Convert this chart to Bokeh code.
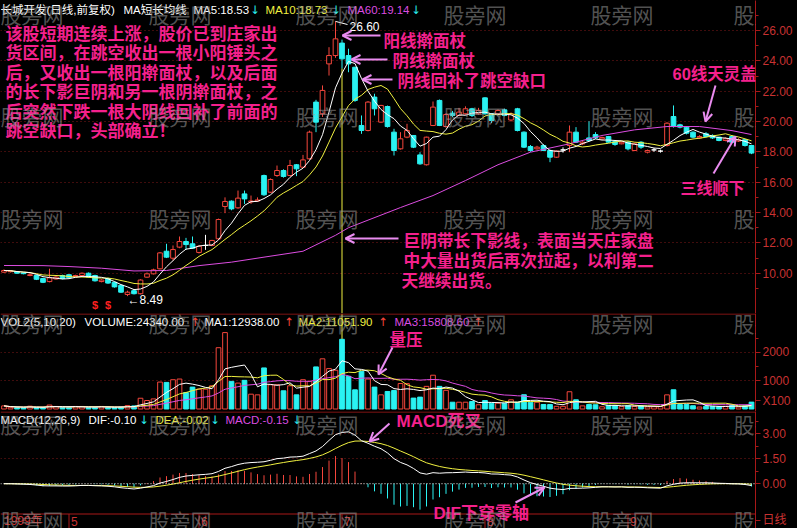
import numpy as np
import pandas as pd
from bokeh.plotting import figure
from bokeh.layouts import column
from bokeh.models import (Range1d, FixedTicker, Label, Arrow, OpenHead, Span,
                          PrintfTickFormatter, ColumnDataSource)
from bokeh.core.properties import value
from bokeh.embed import file_html
from bokeh.resources import INLINE

# ---------------- data ----------------
opens = [10.07,10.10,10.10,10.02,9.85,9.85,9.65,9.45,9.62,9.85,
         9.90,9.78,9.85,10.00,9.85,9.45,9.65,9.40,9.20,8.60,
         8.85,8.65,9.74,9.96,10.29,11.45,10.99,11.72,12.09,11.94,
         11.37,11.83,11.83,12.27,14.40,14.75,14.31,15.23,14.70,14.76,
         16.44,15.34,16.44,16.77,16.44,17.15,16.99,17.54,21.28,20.51,
         23.80,24.35,25.17,24.35,23.58,19.74,19.41,21.61,19.96,20.99,
         19.30,18.20,18.97,19.08,17.80,17.15,19.74,21.39,19.67,20.55,
         20.40,20.51,20.84,20.51,21.56,20.51,20.50,20.77,20.10,20.84,
         19.30,18.35,18.20,18.42,18.09,17.65,18.13,18.42,19.30,18.53,
         18.92,19.14,18.85,19.01,18.68,18.53,18.64,18.09,18.64,17.98,
         18.13,18.05,18.42,20.33,19.78,19.63,19.30,18.92,19.19,19.08,
         18.97,18.75,19.01,18.71,18.80,18.42]
highs = [10.25,10.20,10.12,10.05,10.00,9.90,9.70,10.30,9.85,9.90,
         9.95,9.90,10.05,10.05,9.90,9.60,9.70,9.45,9.25,8.85,
         8.95,9.60,10.05,10.30,11.40,11.94,11.83,12.42,12.33,12.42,
         11.85,12.53,12.20,13.60,15.00,14.80,15.45,15.45,15.12,15.00,
         16.50,16.25,17.10,16.85,17.47,17.20,17.80,19.40,21.43,22.38,
         24.90,26.60,25.40,24.80,23.60,20.40,21.35,21.83,21.10,21.05,
         19.52,19.30,19.85,19.10,17.98,19.00,21.32,21.45,20.55,20.70,
         20.90,21.00,20.90,20.90,21.60,20.55,20.80,20.85,20.60,20.90,
         19.35,18.45,18.40,18.50,18.15,18.10,18.30,19.74,19.63,18.70,
         20.02,19.30,19.00,19.05,18.75,18.70,18.70,18.60,18.70,18.15,
         18.25,18.15,19.95,21.06,19.85,19.70,19.35,19.10,19.30,19.15,
         19.00,18.95,19.10,18.90,18.85,18.45]
lows = [10.02,10.05,9.97,9.93,9.80,9.55,9.35,9.40,9.58,9.60,
        9.65,9.75,9.80,9.70,9.45,9.40,9.30,9.05,8.70,8.49,
        8.60,8.60,9.70,9.92,10.25,11.00,10.84,11.65,11.54,11.60,
        11.30,11.54,11.78,12.20,13.96,14.15,14.25,14.57,14.57,14.70,
        15.10,15.30,16.35,16.30,16.40,16.40,16.95,17.50,19.30,20.30,
        23.03,24.20,23.50,23.25,21.30,19.19,19.35,20.40,19.90,19.60,
        17.76,18.15,18.90,18.25,17.15,17.10,19.70,19.70,19.60,20.30,
        20.35,20.45,20.30,20.45,20.45,19.90,20.40,20.35,20.00,19.35,
        18.25,18.00,18.15,18.05,17.32,17.60,17.95,17.98,18.60,18.45,
        18.70,18.85,18.80,18.60,18.40,18.50,18.10,18.05,18.20,17.90,
        18.00,17.95,18.35,19.60,19.55,19.15,18.90,18.85,18.95,18.85,
        18.70,18.70,18.60,18.65,18.35,17.85]
closes = [10.18,10.15,10.00,9.97,9.90,9.60,9.40,9.70,9.75,9.65,
          9.70,9.85,10.00,9.75,9.50,9.55,9.35,9.10,8.75,8.75,
          8.65,9.55,9.96,10.22,11.34,11.06,11.56,12.09,11.89,11.65,
          11.78,11.83,12.16,13.54,14.73,14.24,14.95,14.90,14.76,14.83,
          15.17,16.18,16.77,16.38,17.10,16.88,17.47,19.30,19.96,22.05,
          24.35,25.45,24.13,23.80,21.39,19.41,21.28,20.84,21.06,19.67,
          18.09,18.86,19.41,18.31,17.21,18.97,20.95,19.74,20.46,20.40,
          20.62,20.84,20.40,20.73,20.51,20.07,20.73,20.40,20.50,19.41,
          18.31,18.09,18.31,18.09,17.65,18.05,18.13,19.30,18.64,18.64,
          18.75,18.92,18.95,18.64,18.49,18.64,18.20,18.53,18.31,18.09,
          18.13,18.05,19.89,19.67,19.63,19.23,18.97,19.01,19.01,18.92,
          18.75,18.86,18.64,18.80,18.42,17.92]
volumes = [110,60,50,50,100,60,50,140,90,60,
           60,90,90,60,60,90,60,60,70,120,
           110,380,300,357,952,940,1035,1059,583,774,
           702,700,821,2166,2700,976,916,1012,524,500,
           1452,857,857,643,821,500,1035,976,1488,1773,
           1428,1369,2463,1154,678,1333,1059,774,500,619,
           655,900,896,385,420,800,1194,800,660,240,
           240,240,265,150,300,206,206,206,325,240,
           504,240,240,160,160,95,95,610,325,110,
           160,150,80,130,125,85,120,90,115,75,
           80,85,500,680,160,160,115,70,95,90,
           90,95,130,70,108,243.4]
ma60_idx = [0,6,10,15,20,25,30,35,40,46,51,53,61,66,71,76,81,87,92,97,102,107,112,115]
ma60_val = [10.51,10.50,10.44,10.33,10.15,10.18,10.50,10.73,11.06,11.45,12.50,13.00,
            14.33,15.12,16.11,17.15,17.98,18.53,19.08,19.45,19.67,19.67,19.40,19.14]
price_ticks = [10, 12, 14, 16, 18, 20, 22, 24, 26]
vol_ticks = [1000, 2000]
vol_unit_tick, vol_unit_text = 300, "X100"
macd_ticks = [0.0, 1.5, 3.0]
period_tick, period_text = -2.2, "日线"
month_start_idx = [10, 30, 52, 74, 96]
month_names = ["5", "6", "7", "8", "9"]
year_name = "1999年"
signal_idx = [14, 16]
cursor_idx = 52

# ---------------- layout & style constants ----------------
FRAME_W = 755
RIGHT_W = 42
PXB = 6.5          # pixels per bar
X_START = -0.54
BLACK = "#000000"; RED = "#f5463c"; CYAN = "#2af2f2"; WHITE = "#ffffff"
YELLOW = "#f0f040"; MAGENTA = "#dc4ce0"; AXIS_RED = "#a81818"; LABEL_RED = "#c83232"
GRID_RED = "#801818"; PINK = "#f5208c"; VIOLET = "#ea8cf0"; WM = "#9a9a9a"
LAT = "Liberation Sans, Noto Sans CJK SC"
CJK = "Noto Sans CJK SC"
ARW = "DejaVu Sans"

def xd(px):
    return X_START + px / PXB

def conv(top, h, start, end):
    return lambda py: end - (py - top) * (end - start) / h

P_RANGE = (7.345, 27.978); P_TOP, P_H = 0, 313
V_RANGE = (-88.3, 3374.6); V_TOP, V_H = 313, 98
M_RANGE = (-2.690, 4.337); M_TOP, M_H = 411, 117
yp = conv(P_TOP, P_H, *P_RANGE)
yv = conv(V_TOP, V_H, *V_RANGE)
ym = conv(M_TOP, M_H, *M_RANGE)

# ---------------- derived series ----------------
o = np.array(opens); hi = np.array(highs); lo = np.array(lows); c = np.array(closes)
v = np.array(volumes, dtype=float)
N = len(c); idx = np.arange(N)
up = c > o; flat = c == o
line_col = np.where(flat, WHITE, np.where(up, RED, CYAN))
fill_col = np.where(up | flat, BLACK, CYAN)
vline_col = np.where(up | flat, RED, CYAN)

ma5 = pd.Series(c).rolling(5, min_periods=1).mean().values
ma10 = pd.Series(c).rolling(10, min_periods=1).mean().values
vma5 = pd.Series(v).rolling(5, min_periods=1).mean().values
vma10 = pd.Series(v).rolling(10, min_periods=1).mean().values
vma20 = pd.Series(v).rolling(20, min_periods=1).mean().values

def ema(x, n):
    a = 2.0 / (n + 1); out = np.empty(len(x)); out[0] = x[0]
    for i in range(1, len(x)):
        out[i] = a * x[i] + (1 - a) * out[i - 1]
    return out

dif = ema(c, 12) - ema(c, 26)
dea = ema(dif, 9)
hist = 2 * (dif - dea)

# ---------------- figures ----------------
xr = Range1d(X_START, X_START + FRAME_W / PXB)

def make(h, rng):
    p = figure(frame_width=FRAME_W, frame_height=h, x_range=xr, y_range=Range1d(*rng),
               output_backend="svg", toolbar_location=None, y_axis_location="right",
               x_axis_location=None,
               min_border_left=0, min_border_right=RIGHT_W, min_border_top=0, min_border_bottom=0,
               background_fill_color=BLACK, border_fill_color=BLACK, outline_line_color=None)
    p.xgrid.grid_line_color = None
    return p

def style_y(p, ticks, minor, fmt, grid_ticks, overrides=None):
    ax = p.yaxis[0]
    ax.ticker = FixedTicker(ticks=ticks, minor_ticks=minor)
    ax.formatter = PrintfTickFormatter(format=fmt)
    if overrides:
        ax.major_label_overrides = overrides
    ax.axis_line_color = AXIS_RED
    ax.major_tick_line_color = AXIS_RED
    ax.minor_tick_line_color = AXIS_RED
    ax.major_tick_in = 0; ax.major_tick_out = 5
    ax.minor_tick_in = 0; ax.minor_tick_out = 3
    ax.major_label_text_color = LABEL_RED
    ax.major_label_text_font_size = "12px"
    ax.major_label_text_font = LAT
    ax.major_label_standoff = 2
    p.ygrid.ticker = FixedTicker(ticks=grid_ticks)
    p.ygrid.grid_line_color = GRID_RED
    p.ygrid.grid_line_dash = "1 3"

def label(p, px, py, text, color, size, yc, font=LAT, style="normal", alpha=1.0, **kw):
    p.add_layout(Label(x=xd(px), y=yc(py), text=text, text_color=color, text_alpha=alpha,
                       text_font=font, text_font_size=f"{size}px", text_font_style=style,
                       text_align="left", text_baseline="middle", **kw))

def arrow(p, a, b, yc):
    p.add_layout(Arrow(x_start=xd(a[0]), y_start=yc(a[1]), x_end=xd(b[0]), y_end=yc(b[1]),
                       line_color=VIOLET, line_width=2,
                       end=OpenHead(size=9, line_color=VIOLET, line_width=2)))

def watermarks(p, rows, yc):
    for ry in rows:
        for cx in [0, 148, 295, 443, 590, 733]:
            label(p, cx, ry, "股旁网", WM, 21, yc, font=CJK, alpha=0.55, level="overlay")

# ----- price panel -----
p1 = make(P_H, P_RANGE)
style_y(p1, price_ticks, [t + 1 for t in price_ticks[:-1]] + [9, 27], "%.2f", price_ticks)
src = ColumnDataSource(dict(x=idx, hi=hi, lo=lo, top=np.maximum(o, c), bot=np.minimum(o, c),
                            lc=line_col, fc=fill_col))
p1.segment(x0=[cursor_idx], y0=[lo[cursor_idx]], x1=[cursor_idx], y1=[P_RANGE[0]],
           line_color=YELLOW, line_width=1)
p1.segment("x", "hi", "x", "lo", line_color="lc", line_width=1, source=src)
p1.vbar(x="x", top="top", bottom="bot", width=0.72, fill_color="fc", line_color="lc",
        line_width=1, source=src)
p1.line(ma60_idx, ma60_val, line_color=MAGENTA, line_width=1)
p1.line(idx, ma10, line_color=YELLOW, line_width=1)
p1.line(idx, ma5, line_color=WHITE, line_width=1)
p1.text(x=signal_idx, y=[yp(304)] * len(signal_idx), text=["$"] * len(signal_idx),
        text_color="#ff2020", text_font=value(LAT), text_font_size="11px",
        text_font_style="bold", text_align="center", text_baseline="middle")
hmax = int(np.argmax(hi)); lmin = int(np.argmin(lo))
p1.segment(x0=[hmax], y0=[hi[hmax]], x1=[xd(347)], y1=[yp(24)], line_color=WHITE, line_width=1)

watermarks(p1, [13, 115, 217], yp)

label(p1, 349, 26, f"{hi[hmax]:.2f}", WHITE, 12, yp)
p1.add_layout(Label(x=lmin, y=yp(299), text=f"←{lo[lmin]:.2f}", text_color=WHITE,
                    text_font=LAT, text_font_size="12px", text_align="left", text_baseline="middle"))

for px, t, col, f in [(0, "长城开发(日线,前复权)", WHITE, LAT), (123, "MA短长均线", WHITE, LAT),
                      (193, "MA5:18.53", WHITE, LAT), (250, "↓", CYAN, ARW),
                      (265, "MA10:18.73", YELLOW, LAT), (331, "↓", CYAN, ARW),
                      (347, "MA60:19.14", MAGENTA, LAT), (411, "↓", CYAN, ARW)]:
    label(p1, px, 9.5, t, col, 11.5, yp, font=f)

para = ["该股短期连续上涨，股价已到庄家出", "货区间，在跳空收出一根小阳锤头之",
        "后，又收出一根阳擀面杖，以及后面", "的长下影巨阴和另一根阴擀面杖，之",
        "后突然下跌一根大阴线回补了前面的", "跳空缺口，头部确立！"]
for t, py in zip(para, [32, 51, 70.5, 90, 110, 129]):
    label(p1, 5, py, t, PINK, 17, yp, font=CJK, style="bold")
for px, py, t, s in [(383, 40, "阳线擀面杖", 16.5), (392, 60, "阴线擀面杖", 16.5),
                     (397, 80, "阴线回补了跳空缺口", 16.5), (672, 73, "60线天灵盖", 16.5),
                     (680, 188, "三线顺下", 16), (403, 241, "巨阴带长下影线，表面当天庄家盘", 16.7),
                     (403, 261, "中大量出货后再次拉起，以利第二", 16.7), (401, 281, "天继续出货。", 16.7)]:
    label(p1, px, py, t, PINK, s, yp, font=LAT, style="bold")
for a, b in [((380, 35), (342, 35)), ((387, 59), (351, 59)), ((392, 79), (362, 79)),
             ((715, 85), (705, 121)), ((713, 173), (735, 136)), ((398, 238), (345, 238))]:
    arrow(p1, a, b, yp)

# ----- volume panel -----
p2 = make(V_H, V_RANGE)
style_y(p2, vol_ticks + [vol_unit_tick], [1500, 2500], "%d", vol_ticks,
        overrides={vol_unit_tick: vol_unit_text})
vsrc = ColumnDataSource(dict(x=idx, top=v, lc=vline_col, fc=np.where(up | flat, BLACK, CYAN)))
p2.segment(x0=[cursor_idx], y0=[0], x1=[cursor_idx], y1=[V_RANGE[1]], line_color=YELLOW, line_width=1)
p2.vbar(x="x", top="top", bottom=0, width=0.72, fill_color="fc", line_color="lc",
        line_width=1, source=vsrc)
p2.line(idx, vma20, line_color=MAGENTA, line_width=1)
p2.line(idx, vma10, line_color=YELLOW, line_width=1)
p2.line(idx, vma5, line_color=WHITE, line_width=1)
p2.add_layout(Span(location=yv(313.5), dimension="width", line_color=AXIS_RED, line_width=1))
watermarks(p2, [322], yv)
for px, t, col, f in [(0, "VOL2(5,10,20)", WHITE, LAT), (84, "VOLUME:24340.00", WHITE, LAT),
                      (190, "↑", RED, ARW), (204, "MA1:12938.00", WHITE, LAT), (284, "↑", RED, ARW),
                      (298, "MA2:11051.90", YELLOW, LAT), (378, "↑", RED, ARW),
                      (394, "MA3:15808.60", MAGENTA, LAT), (473, "↑", RED, ARW)]:
    label(p2, px, 321.5, t, col, 11.5, yv, font=f)
label(p2, 389, 338, "量压", PINK, 16.5, yv, font=CJK, style="bold")
arrow(p2, (392, 347), (378, 374), yv)

# ----- MACD panel (with the date band inside its frame) -----
p3 = make(M_H, M_RANGE)
style_y(p3, macd_ticks + [period_tick], [0.75, 2.25, 3.75], "%.2f", [1.5, 3.0],
        overrides={period_tick: period_text})
hcol = np.where(hist >= 0, RED, CYAN)
p3.segment(x0=idx, y0=np.zeros(N), x1=idx, y1=hist, line_color=hcol, line_width=1)
p3.line(idx, dea, line_color=YELLOW, line_width=1)
p3.line(idx, dif, line_color=WHITE, line_width=1)
p3.add_layout(Span(location=0, dimension="width", line_color=WHITE, line_width=1, line_dash="1 2"))
p3.add_layout(Span(location=ym(411.5), dimension="width", line_color=AXIS_RED, line_width=1))
# date band
p3.add_layout(Span(location=ym(513.5), dimension="width", line_color=AXIS_RED, line_width=1))
p3.segment(x0=month_start_idx, y0=[ym(513.5)] * len(month_start_idx), x1=month_start_idx,
           y1=[ym(528)] * len(month_start_idx), line_color=AXIS_RED, line_width=1)
date_x = [0] + [m + 0.3 for m in month_start_idx]
p3.text(x=date_x, y=[ym(520.5)] * len(date_x), text=[year_name] + month_names,
        text_color=LABEL_RED, text_font=value(LAT), text_font_size="12px",
        text_align="left", text_baseline="middle")
watermarks(p3, [423, 519], ym)
for px, t, col, f in [(0, "MACD(12,26,9)", WHITE, LAT), (88, "DIF:-0.10", WHITE, LAT),
                      (139, "↓", CYAN, ARW), (155, "DEA:-0.02", YELLOW, LAT), (210, "↓", CYAN, ARW),
                      (225, "MACD:-0.15", MAGENTA, LAT), (292, "↓", CYAN, ARW)]:
    label(p3, px, 419, t, col, 11.5, ym, font=f)
label(p3, 396, 421, "MACD死叉", PINK, 17, ym, font=LAT, style="bold")
label(p3, 433, 513, "DIF下穿零轴", PINK, 17, ym, font=LAT, style="bold")
arrow(p3, (389, 423), (369, 441), ym)
arrow(p3, (515, 502), (544, 487), ym)

layout = column(p1, p2, p3, spacing=0)
html = file_html(layout, INLINE, title="长城开发")
html = html.replace("</head>", "<style>html,body{margin:0;padding:0;background:#000;}</style></head>", 1)
open("out.html", "w").write(html)
